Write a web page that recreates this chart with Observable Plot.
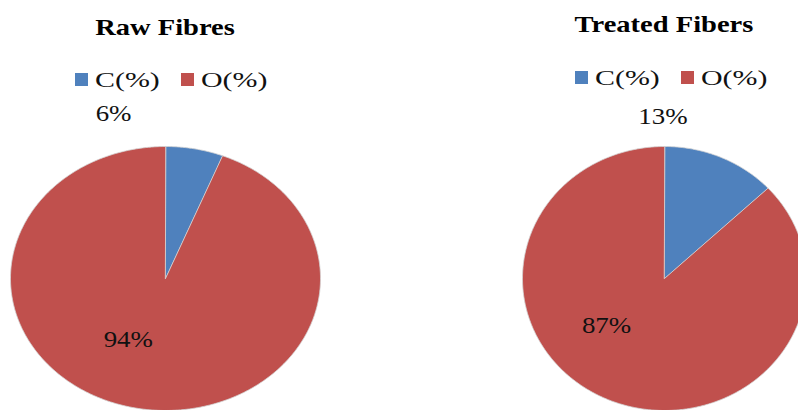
<!DOCTYPE html>
<html>
<head>
<meta charset="utf-8">
<script src="https://cdn.jsdelivr.net/npm/d3@7"></script>
<script src="https://cdn.jsdelivr.net/npm/@observablehq/plot@0.6"></script>
<style>
  body { margin: 0; background: #fff; font-family: "Liberation Serif", "Times New Roman", serif; }
  #chart { position: relative; width: 798px; height: 410px; overflow: hidden; background: #fff; }
  .title { position: absolute; font-weight: bold; font-size: 23px; line-height: 23px; white-space: nowrap; color: #000; }
  .legend { position: absolute; display: flex; align-items: center; font-size: 22px; line-height: 22px; white-space: nowrap; color: #111; }
  .sw { width: 13px; height: 13px; flex: none; margin-right: 7px; }
  .gap { width: 21px; flex: none; }
  .st { display: inline-block; transform-origin: 0 50%; }
  #plot { position: absolute; left: 0; }
</style>
</head>
<body>
<div id="chart"></div>
<script>
// Elemental composition of the fibre surface (C and O, %)
const categories = ["C(%)", "O(%)"];
const colors = ["#4F81BD", "#C0504D"];
const pieTitles = ["Raw Fibres", "Treated Fibers"];
const rawFibres = [6, 94];
const treatedFibers = [13, 87];
const pieValues = [rawFibres, treatedFibers];

// Page layout (pixels)
const W = 798, H = 410;
const plotTop = 95;
const pieCx = [165, 664];      // pie centres
const pieRx = [155, 142];      // horizontal radii
const pieRy = 132;             // vertical radius
const pieCy = 278;
const titleBaseline = [35, 32];
const legendBaseline = [87, 85];
const legendCx = [171, 671];
const titleStretch = 1.24, legendStretch = 1.36, labelStretch = 1.17;

// Data units: one unit = left pie's horizontal radius in x, vertical radius in y
const ux = pieRx[0], uy = pieRy;
const xDomain = [-pieCx[0] / ux, (W - pieCx[0]) / ux];
const plotH = H - plotTop;
const yDomain = [-(H - pieCy) / uy, (pieCy - plotTop) / uy];
const centreX = pieCx.map(c => (c - pieCx[0]) / ux);
const radiusX = pieRx.map(r => r / ux);

// Label offsets from each pie centre, in data units: [small slice, large slice]
const labelOffsets = [
  [[-0.335, 1.25], [-0.24, -0.46]],
  [[-0.01, 1.227], [-0.374, -0.356]]
];

const chart = document.getElementById("chart");

// Titles and legends above each pie
pieTitles.forEach((t, p) => {
  const el = document.createElement("div");
  el.className = "title";
  el.textContent = t;
  el.style.left = pieCx[p] + "px";
  el.style.top = (titleBaseline[p] - 19.2) + "px";
  el.style.transformOrigin = "0 0";
  el.style.transform = `scaleX(${titleStretch}) translateX(-50%)`;
  chart.appendChild(el);

  const lg = document.createElement("div");
  lg.className = "legend";
  lg.style.top = (legendBaseline[p] - 18.4) + "px";
  categories.forEach((c, i) => {
    if (i > 0) { const g = document.createElement("span"); g.className = "gap"; lg.appendChild(g); }
    const sw = document.createElement("span");
    sw.className = "sw";
    sw.style.background = colors[i];
    lg.appendChild(sw);
    const tx = document.createElement("span");
    tx.className = "st";
    tx.textContent = c;
    tx.style.transform = `scaleX(${legendStretch})`;
    lg.appendChild(tx);
  });
  chart.appendChild(lg);
  lg.querySelectorAll(".st").forEach(s => { s.style.marginRight = ((legendStretch - 1) * s.offsetWidth) + "px"; });
  lg.style.left = (legendCx[p] - lg.offsetWidth / 2) + "px";
});

// Slice outlines built from the pie angles
const slicePts = [];
const labels = [];
pieValues.forEach((vals, p) => {
  const arcs = d3.pie().sort(null)(vals);
  arcs.forEach((a, i) => {
    const key = p + "-" + i;
    slicePts.push({key, cat: categories[i], x: centreX[p], y: 0});
    const n = Math.max(2, Math.ceil((a.endAngle - a.startAngle) / 0.01));
    for (let k = 0; k <= n; k++) {
      const t = a.startAngle + (a.endAngle - a.startAngle) * k / n;
      slicePts.push({key, cat: categories[i], x: centreX[p] + radiusX[p] * Math.sin(t), y: Math.cos(t)});
    }
    const off = labelOffsets[p][i];
    labels.push({x: centreX[p] + off[0], y: off[1], text: a.data + "%"});
  });
});

const svg = Plot.plot({
  width: W,
  height: plotH,
  margin: 0,
  x: {domain: xDomain, axis: null},
  y: {domain: yDomain, axis: null},
  color: {domain: categories, range: colors},
  style: {background: "transparent", overflow: "visible"},
  marks: [
    Plot.line(slicePts, {x: "x", y: "y", z: "key", fill: "cat", stroke: "#d4d4d4", strokeWidth: 0.8, curve: "linear-closed"}),
    Plot.text(labels, {x: "x", y: "y", text: "text", fontSize: 23, fontFamily: "Liberation Serif", fill: "#111"})
  ]
});
svg.id = "plot";
svg.style.top = plotTop + "px";
svg.querySelectorAll("text").forEach(t => {
  const tr = t.getAttribute("transform") || "";
  t.setAttribute("transform", tr + ` scale(${labelStretch},1)`);
});
chart.appendChild(svg);
</script>
</body>
</html>
